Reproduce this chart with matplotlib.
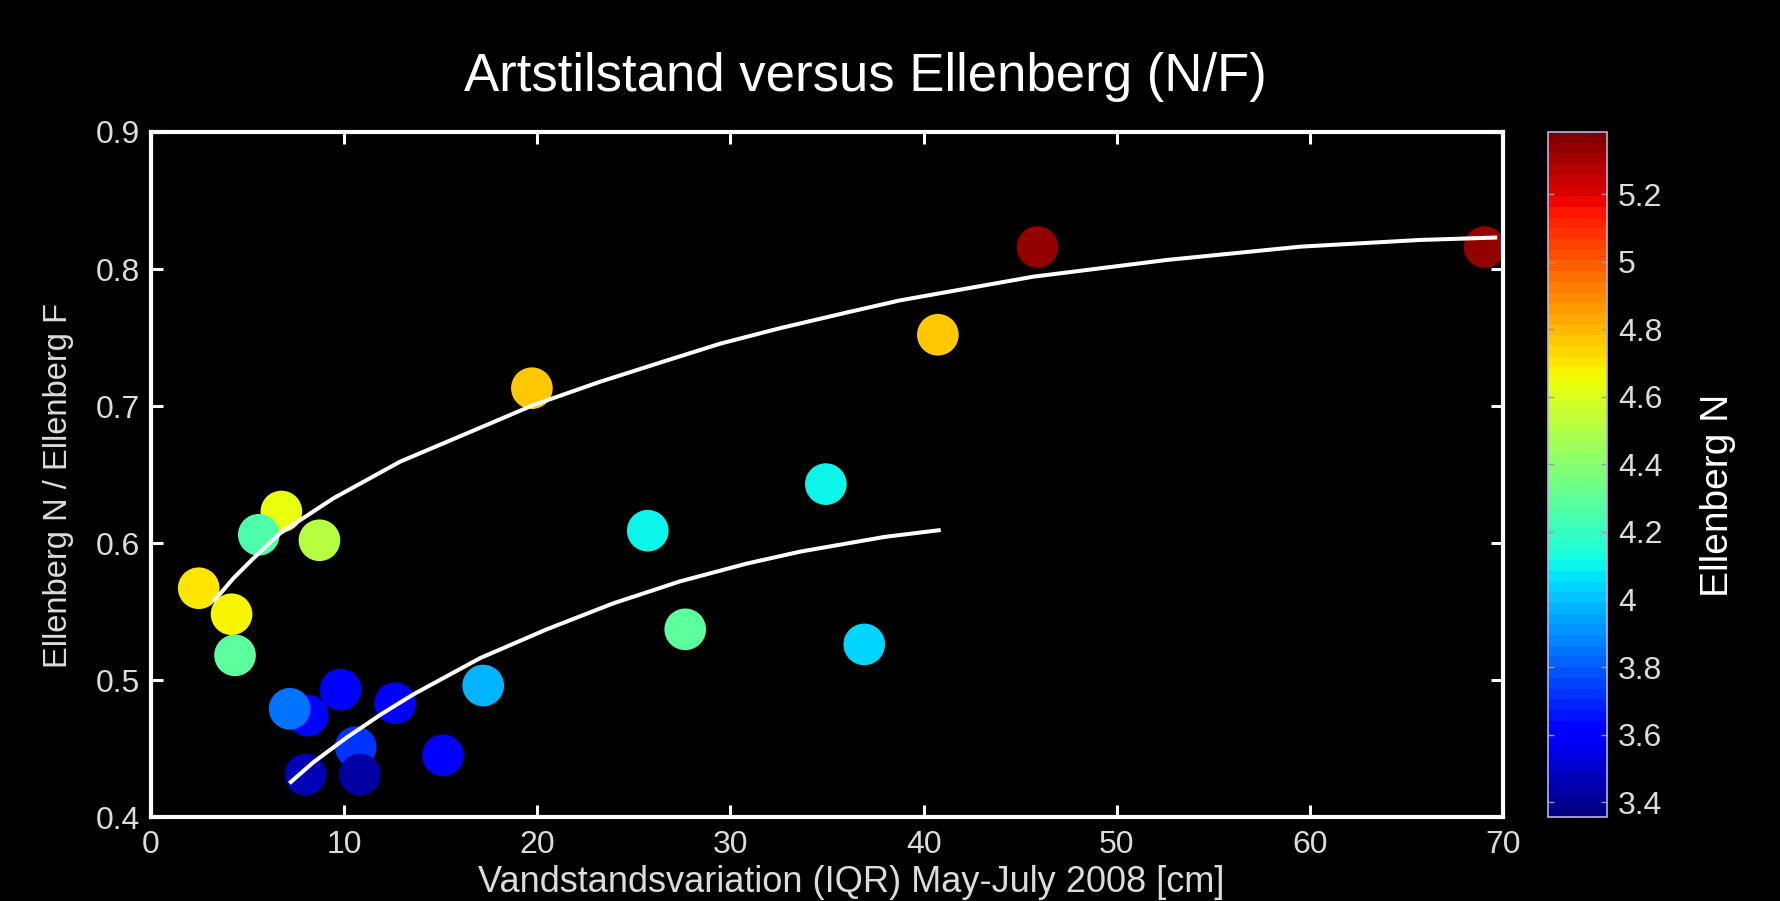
import numpy as np
import matplotlib
matplotlib.use("Agg")
from matplotlib import pyplot as plt

plt.rcParams['font.family'] = ['Liberation Sans', 'DejaVu Sans']

# scatter data
iqr = [2.47, 4.17, 4.35, 6.75, 5.58, 8.72, 8.12, 7.18, 8.0, 9.82, 10.6, 10.82,
       12.64, 15.12, 17.2, 19.72, 25.72, 27.66, 34.94, 36.93, 40.74, 45.9, 69.05]
ratio_nf = [0.567, 0.548, 0.518, 0.623, 0.606, 0.602, 0.474, 0.479, 0.431, 0.493, 0.451, 0.431,
            0.483, 0.445, 0.496, 0.713, 0.609, 0.537, 0.643, 0.526, 0.752, 0.816, 0.816]
ellenberg_n = [4.71, 4.66, 4.29, 4.64, 4.26, 4.51, 3.62, 3.86, 3.48, 3.60, 3.73, 3.45,
               3.60, 3.60, 3.96, 4.77, 4.10, 4.29, 4.09, 4.03, 4.78, 5.33, 5.33]

# fitted curves
upper_x = [3.23, 4.26, 5.30, 6.68, 9.44, 12.9, 16.35, 19.8, 23.25, 26.7, 29.47, 32.57,
           36.1, 38.78, 45.68, 52.6, 59.5, 65.7, 69.7]
upper_y = [0.5572, 0.5742, 0.5888, 0.6071, 0.6326, 0.6594, 0.680, 0.7007, 0.7177, 0.7332,
           0.7455, 0.7568, 0.7685, 0.7771, 0.7944, 0.8066, 0.8163, 0.8212, 0.823]
lower_x = [7.16, 8.41, 10.13, 11.86, 13.58, 17.04, 20.49, 23.94, 27.39, 30.85, 33.61,
           38.0, 40.89]
lower_y = [0.4246, 0.440, 0.458, 0.4745, 0.4895, 0.516, 0.537, 0.556, 0.572, 0.585, 0.5937,
           0.6045, 0.6095]

xticks = [0, 10, 20, 30, 40, 50, 60, 70]
yticks = [0.4, 0.5, 0.6, 0.7, 0.8, 0.9]
cticks = [3.4, 3.6, 3.8, 4.0, 4.2, 4.4, 4.6, 4.8, 5.0, 5.2]
clim = (3.356, 5.384)

lightgrey = '#dcdcdc'

fig = plt.figure(figsize=(17.81, 9.01), dpi=100, facecolor='black')
ax = fig.add_axes([0.0848, 0.0932, 0.7591, 0.7603])
ax.set_facecolor('black')

cmap = plt.get_cmap('jet', 64)
sc = ax.scatter(iqr, ratio_nf, c=ellenberg_n, cmap=cmap, vmin=clim[0], vmax=clim[1],
                s=900, linewidths=0, zorder=2)
ax.plot(upper_x, upper_y, color='white', lw=2.9, solid_capstyle='butt',
        solid_joinstyle='round', zorder=3)
ax.plot(lower_x, lower_y, color='white', lw=2.9, solid_capstyle='butt',
        solid_joinstyle='round', zorder=3)

ax.set_xlim(0, 70)
ax.set_ylim(0.4, 0.9)
ax.set_xticks(xticks)
ax.set_xticklabels([str(t) for t in xticks])
ax.set_yticks(yticks)
ax.set_yticklabels(['%g' % t for t in yticks])
for sp in ax.spines.values():
    sp.set_color('white')
    sp.set_linewidth(3)
ax.tick_params(direction='in', length=8.5, width=2.2, color='white',
               top=True, right=True, labelsize=23, labelcolor=lightgrey)
ax.tick_params(axis='x', pad=9)
ax.tick_params(axis='y', pad=8)

# colorbar
cax = fig.add_axes([0.8692, 0.0932, 0.0331, 0.7603])
cb = fig.colorbar(sc, cax=cax, ticks=cticks)
cb.ax.set_yticklabels(['%g' % t for t in cticks])
cb.outline.set_edgecolor('#b4b4e6')
cb.outline.set_linewidth(1.2)
cax.tick_params(direction='in', length=4, width=1, color='#9a9a9a',
                left=True, right=True, labelsize=23, labelcolor=lightgrey, pad=8)

fig.text(0.4857, 0.8993, 'Artstilstand versus Ellenberg (N/F)', color='white',
         fontsize=38, ha='center', va='baseline')
fig.text(0.0326, 0.461, 'Ellenberg N / Ellenberg F', color=lightgrey, fontsize=23.5,
         rotation=90, ha='center', va='center')
fig.text(0.478, 0.0105, 'Vandstandsvariation (IQR) May-July 2008 [cm]', color=lightgrey,
         fontsize=26, ha='center', va='baseline')
fig.text(0.9646, 0.4506, 'Ellenberg N', color='white', fontsize=28,
         rotation=90, ha='center', va='center')

fig.savefig('out.png', dpi=100, facecolor='black')
